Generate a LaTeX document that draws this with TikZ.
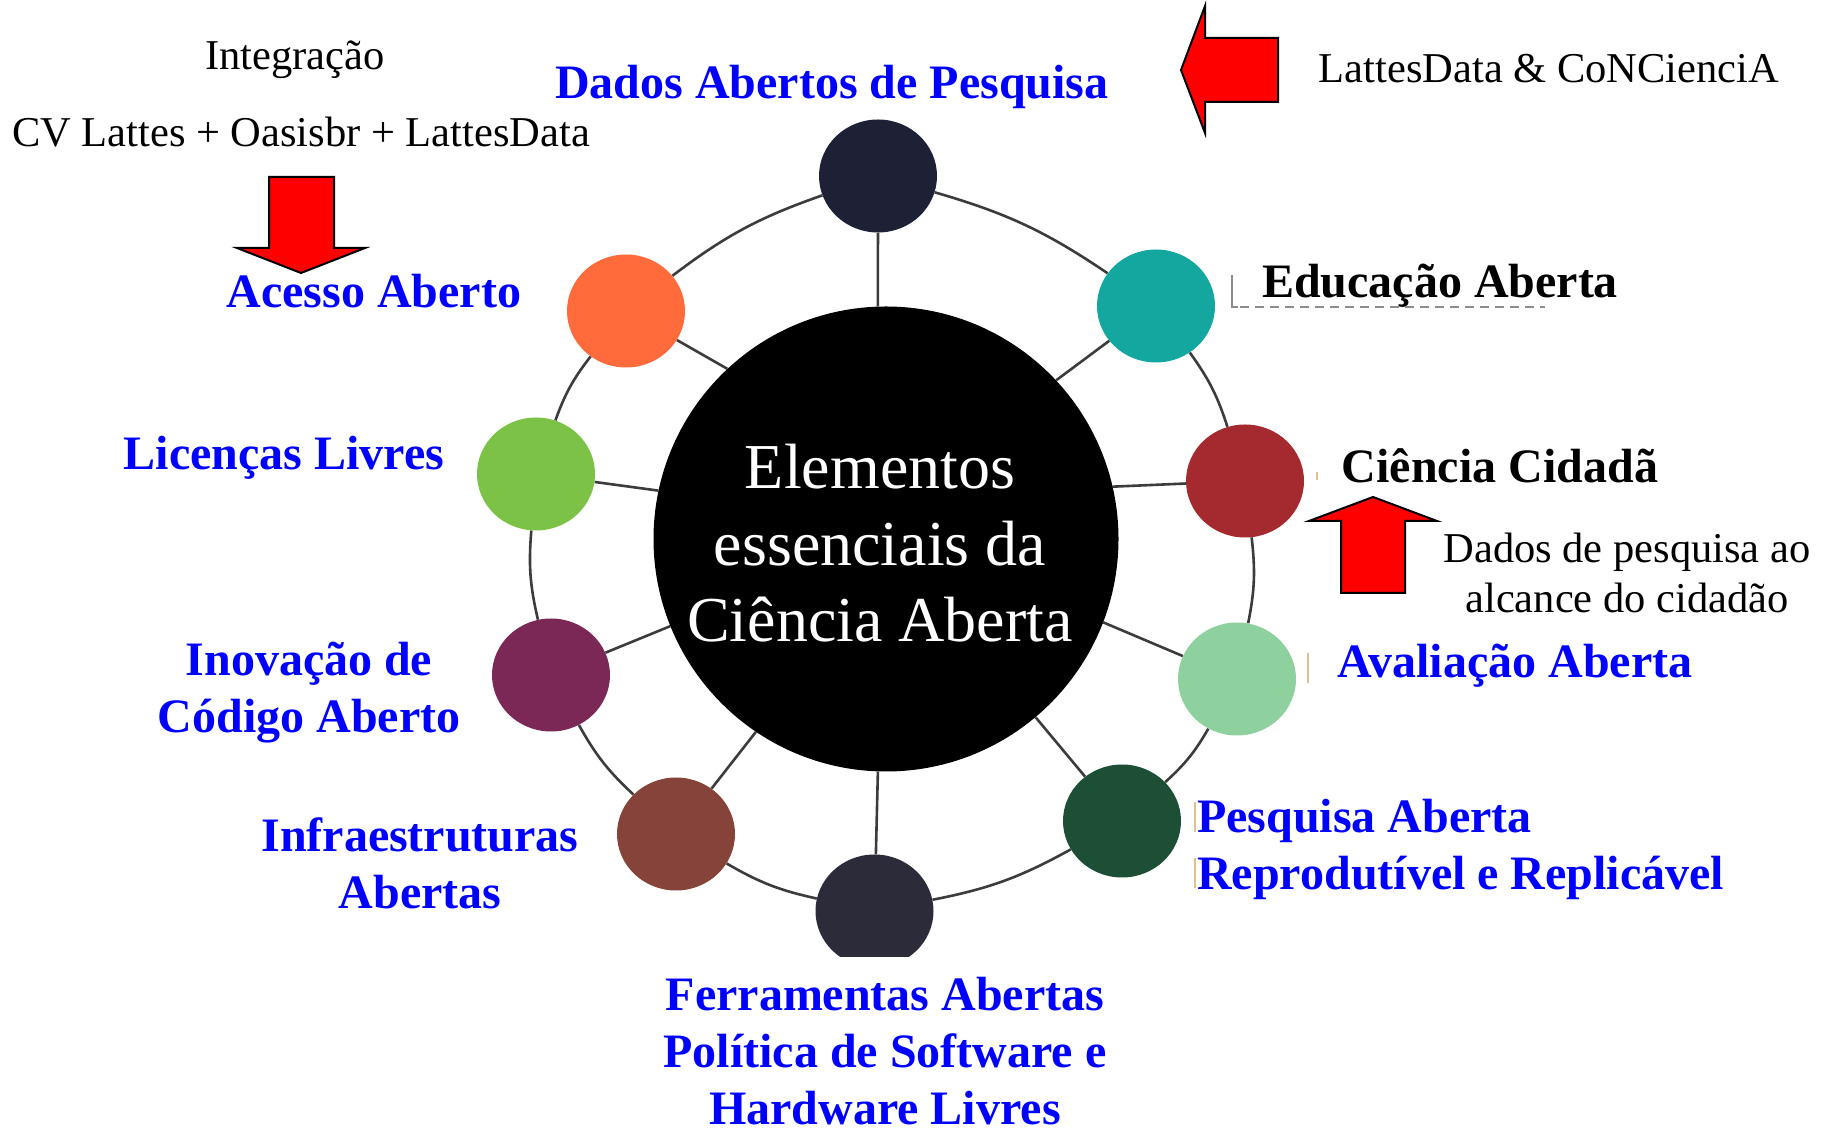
\documentclass[tikz,border=0pt]{standalone}
\usepackage{fontspec}
\setmainfont{Liberation Serif}
\usetikzlibrary{shapes.geometric,backgrounds}
\definecolor{lblblue}{HTML}{0000FF}
\definecolor{linkgray}{HTML}{3C3C3C}
\definecolor{cnavy}{HTML}{1E2035}
\definecolor{cteal}{HTML}{14A79F}
\definecolor{cred}{HTML}{A52A30}
\definecolor{clgreen}{HTML}{8FD19E}
\definecolor{cdgreen}{HTML}{1D4F37}
\definecolor{cbottom}{HTML}{2B2B39}
\definecolor{cbrown}{HTML}{86433A}
\definecolor{cpurple}{HTML}{7B2856}
\definecolor{cgreen}{HTML}{7BC247}
\definecolor{corange}{HTML}{FF6B3A}
\definecolor{arrred}{HTML}{FF0000}
\definecolor{ghost}{HTML}{8C8C8C}
\definecolor{tanmark}{HTML}{E2BF92}
\tikzset{
  sat/.style={ellipse, minimum width=118pt, minimum height=113pt, inner sep=0pt, draw=none},
  central/.style={circle, minimum size=465pt, inner sep=0pt, fill=black, draw=none},
  link/.style={draw=linkgray, line width=2.6pt},
  ringlink/.style={link, bend left=9},
  lbl/.style={font=\fontsize{48}{57}\selectfont\bfseries, text=lblblue, inner sep=0pt, anchor=base},
  blacklbl/.style={lbl, text=black},
  note/.style={font=\fontsize{42.5}{50}\selectfont, text=black, inner sep=0pt, anchor=base},
  title/.style={font=\fontsize{64}{76.5}\selectfont, text=white, inner sep=0pt, anchor=base},
  bigarrow/.style={fill=arrred, draw=black, line width=2pt, line join=miter},
  ghostline/.style={draw=ghost, line width=1.2pt},
  tick/.style={draw=tanmark, line width=1.5pt},
}
\begin{document}
\begin{tikzpicture}[x=1pt,y=1pt]
\useasboundingbox (0,0) rectangle (1829,1133);

% central circle and its title
\node[central] (C) at (886,594) {};
\node[title] (ctitle) at (880,644)
  {\begin{tabular}[t]{@{}c@{}}Elementos\\essenciais da\\Ciência Aberta\end{tabular}};

% satellites
\node[sat, fill=cnavy]   (s1)  at (878,957) {};
\node[sat, fill=cteal]   (s2)  at (1156,827) {};
\node[sat, fill=cred]    (s3)  at (1245,652) {};
\node[sat, fill=clgreen] (s4)  at (1237,454) {};
\node[sat, fill=cdgreen] (s5)  at (1122,312) {};
\begin{scope}
  \clip (0,176) rectangle (1829,1133);
  \node[sat, fill=cbottom] (s6) at (874.5,222) {};
\end{scope}
\node[sat, fill=cbrown]  (s7)  at (676,299) {};
\node[sat, fill=cpurple] (s8)  at (551,458) {};
\node[sat, fill=cgreen]  (s9)  at (536,659) {};
\node[sat, fill=corange] (s10) at (626,822) {};

% ring and spokes
\begin{scope}[on background layer]
  \fill[white] (0,0) rectangle (1829,1133);
  \draw[link] (s1) to[ringlink] (s2);
  \draw[link] (s2) to[ringlink] (s3);
  \draw[link] (s3) to[ringlink] (s4);
  \draw[link] (s4) to[ringlink] (s5);
  \draw[link] (s5) to[ringlink] (s6);
  \draw[link] (s6) to[ringlink] (s7);
  \draw[link] (s7) to[ringlink] (s8);
  \draw[link] (s8) to[ringlink] (s9);
  \draw[link] (s9) to[ringlink] (s10);
  \draw[link] (s10) to[ringlink] (s1);
  \draw[link] (C.92) -- (s1);
  \draw[link] (C.43.8) -- (s2);
  \draw[link] (C.13.9) -- (s3);
  \draw[link] (C.-21.8) -- (s4);
  \draw[link] (C.-50.3) -- (s5);
  \draw[link] (C.-92.7) -- (s6);
  \draw[link] (C.236.3) -- (s7);
  \draw[link] (C.202.2) -- (s8);
  \draw[link] (C.168.5) -- (s9);
  \draw[link] (C.133.8) -- (s10);
\end{scope}

% labels
\node[lbl] (l1) at (832,1034) {Dados Abertos de Pesquisa};
\node[blacklbl] (l2) at (1440,835) {Educação Aberta};
\node[blacklbl] (l3) at (1500,650) {Ciência Cidadã};
\node[lbl] (l4) at (1515,455) {Avaliação Aberta};
\node[lbl, anchor=base west] (l5) at (1197,300)
  {\begin{tabular}[t]{@{}l@{}}Pesquisa Aberta\\Reprodutível e Replicável\end{tabular}};
\node[lbl] (l6) at (885,122)
  {\begin{tabular}[t]{@{}c@{}}Ferramentas Abertas\\Política de Software e\\Hardware Livres\end{tabular}};
\node[lbl] (l7) at (420,281)
  {\begin{tabular}[t]{@{}c@{}}Infraestruturas\\Abertas\end{tabular}};
\node[lbl] (l8) at (309,457)
  {\begin{tabular}[t]{@{}c@{}}Inovação de\\Código Aberto\end{tabular}};
\node[lbl] (l9) at (284,663) {Licenças Livres};
\node[lbl] (l10) at (374,825) {Acesso Aberto};

% notes
\node[note] (n1) at (295,1063) {Integração};
\node[note] (n2) at (301,986) {CV Lattes + Oasisbr + LattesData};
\node[note] (n3) at (1549,1050) {LattesData \& CoNCienciA};
\node[note] (n4) at (1627,570)
  {\begin{tabular}[t]{@{}c@{}}Dados de pesquisa ao\\alcance do cidadão\end{tabular}};

% block arrows
\draw[bigarrow] (269,956) -- (334,956) -- (334,885) -- (365,885) -- (301,860)
  -- (237,885) -- (269,885) -- cycle;
\draw[bigarrow] (1181,1063) -- (1205,1127) -- (1205,1095) -- (1278,1095)
  -- (1278,1031) -- (1205,1031) -- (1205,1000) -- cycle;
\draw[bigarrow] (1341,540) -- (1405,540) -- (1405,612) -- (1437,612) -- (1373,636)
  -- (1309,612) -- (1341,612) -- cycle;

% faint artefacts of the original
\draw[ghostline] (1232,858) -- (1232,826) -- (1238,826);
\draw[ghostline, dash pattern=on 9pt off 6pt] (1240,826) -- (1545,826);
\draw[tick] (1317,661) -- (1317,653);
\draw[tick] (1308,480) -- (1308,450);
\draw[tick] (1195,331) -- (1195,301);
\draw[tick] (1195,275) -- (1195,245);
\end{tikzpicture}
\end{document}
